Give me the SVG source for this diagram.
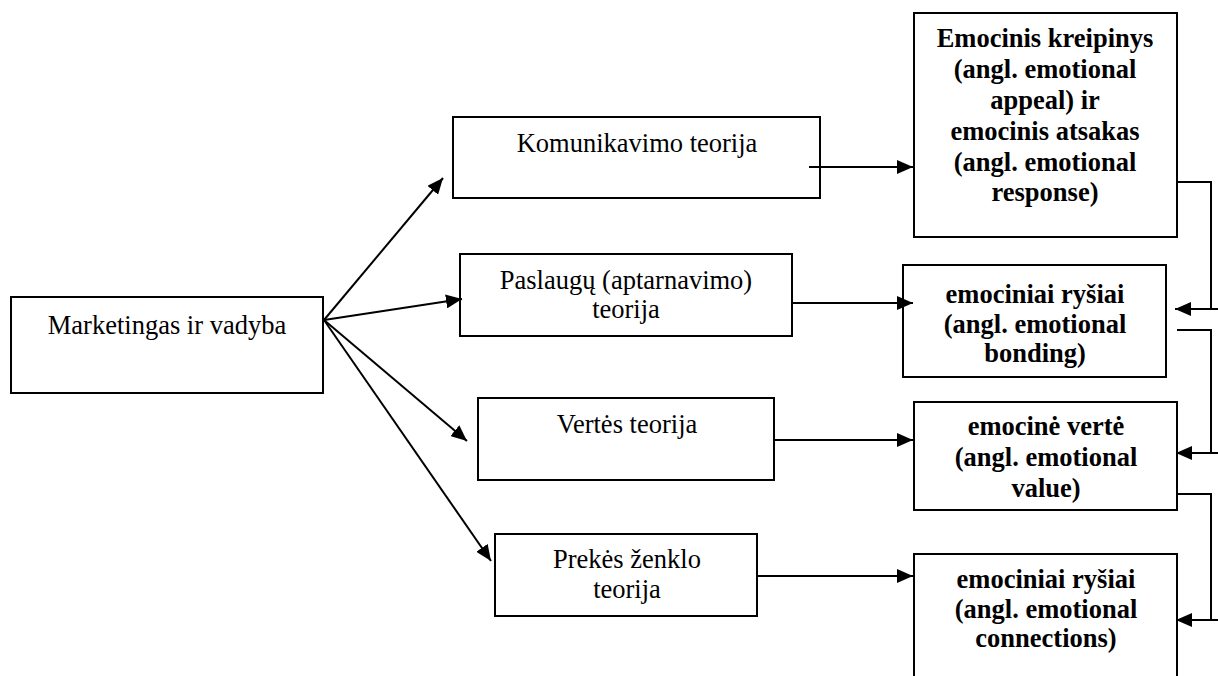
<svg xmlns="http://www.w3.org/2000/svg" width="1218" height="676" viewBox="0 0 1218 676">
  <style>
    .box { fill: #ffffff; stroke: #000000; stroke-width: 2; }
    .lbl { font-family: "Liberation Serif", "Times New Roman", serif; font-size: 26.5px; fill: #000000; text-anchor: middle; }
    .bold { font-weight: bold; }
    .link { fill: none; stroke: #000000; stroke-width: 2; }
    .arrow { marker-end: url(#head); }
  </style>
  <defs>
    <marker id="head" viewBox="0 0 16 14" refX="16" refY="7" markerWidth="16" markerHeight="14" markerUnits="userSpaceOnUse" orient="auto">
      <path d="M0,0 L16,7 L0,14 z" fill="#000000"/>
    </marker>
  </defs>

  <!-- root -->
  <g id="node-marketingas">
    <rect class="box" x="11" y="297" width="312" height="96"/>
    <text class="lbl" x="167" y="334">Marketingas ir vadyba</text>
  </g>

  <!-- theories -->
  <g id="node-komunikavimo">
    <rect class="box" x="453" y="117" width="367" height="81"/>
    <text class="lbl" x="637" y="152">Komunikavimo teorija</text>
  </g>
  <g id="node-paslaugu">
    <rect class="box" x="460" y="254" width="332" height="82"/>
    <text class="lbl" x="626" y="289">Paslaugų (aptarnavimo)</text>
    <text class="lbl" x="626" y="318">teorija</text>
  </g>
  <g id="node-vertes">
    <rect class="box" x="478" y="398" width="296" height="82"/>
    <text class="lbl" x="627" y="433">Vertės teorija</text>
  </g>
  <g id="node-prekes">
    <rect class="box" x="495" y="534" width="262" height="82"/>
    <text class="lbl" x="627" y="568">Prekės ženklo</text>
    <text class="lbl" x="627" y="598">teorija</text>
  </g>

  <!-- emotional concepts -->
  <g id="node-kreipinys">
    <rect class="box" x="914" y="13" width="263" height="224"/>
    <text class="lbl bold" x="1045" y="47">Emocinis kreipinys</text>
    <text class="lbl bold" x="1045" y="78">(angl. emotional</text>
    <text class="lbl bold" x="1045" y="109">appeal) ir</text>
    <text class="lbl bold" x="1045" y="140">emocinis atsakas</text>
    <text class="lbl bold" x="1045" y="171">(angl. emotional</text>
    <text class="lbl bold" x="1045" y="201">response)</text>
  </g>
  <g id="node-bonding">
    <rect class="box" x="903" y="265" width="263" height="112"/>
    <text class="lbl bold" x="1035" y="303">emociniai ryšiai</text>
    <text class="lbl bold" x="1035" y="333">(angl. emotional</text>
    <text class="lbl bold" x="1035" y="362">bonding)</text>
  </g>
  <g id="node-value">
    <rect class="box" x="914" y="402" width="263" height="108"/>
    <text class="lbl bold" x="1046" y="435">emocinė vertė</text>
    <text class="lbl bold" x="1046" y="466">(angl. emotional</text>
    <text class="lbl bold" x="1046" y="497">value)</text>
  </g>
  <g id="node-connections">
    <rect class="box" x="914" y="554" width="263" height="140"/>
    <text class="lbl bold" x="1046" y="588">emociniai ryšiai</text>
    <text class="lbl bold" x="1046" y="618">(angl. emotional</text>
    <text class="lbl bold" x="1046" y="647">connections)</text>
  </g>

  <!-- connectors -->
  <g id="connectors">
    <line class="link arrow" x1="324" y1="320" x2="443" y2="178"/>
    <line class="link arrow" x1="324" y1="320" x2="462" y2="299"/>
    <line class="link arrow" x1="324" y1="320" x2="467" y2="441"/>
    <line class="link arrow" x1="324" y1="320" x2="491" y2="561"/>

    <line class="link arrow" x1="809" y1="167" x2="913" y2="167"/>
    <line class="link arrow" x1="792" y1="303" x2="913" y2="303"/>
    <line class="link arrow" x1="774" y1="440" x2="913" y2="440"/>
    <line class="link arrow" x1="757" y1="576" x2="913" y2="576"/>

    <polyline class="link" points="1177,182 1211,182 1211,308"/>
    <line class="link arrow" x1="1218" y1="309" x2="1175" y2="309"/>
    <polyline class="link" points="1177,330 1211,330 1211,452"/>
    <line class="link arrow" x1="1218" y1="453" x2="1176" y2="453"/>
    <polyline class="link" points="1177,494 1211,494 1211,619"/>
    <line class="link arrow" x1="1218" y1="620" x2="1176" y2="620"/>
  </g>
</svg>
